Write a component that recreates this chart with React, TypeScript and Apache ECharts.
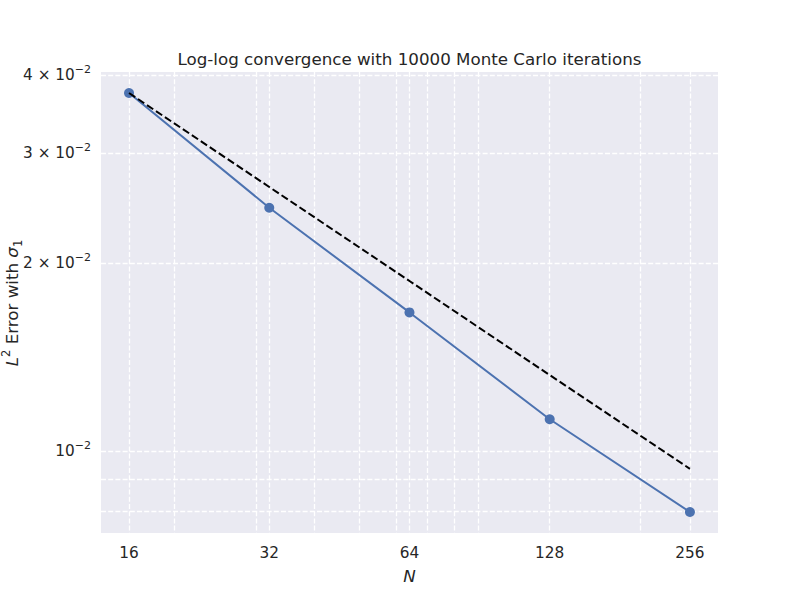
import React, { useEffect, useRef } from "react";
import * as echarts from "echarts";

// Data
const N_VALUES = [16, 32, 64, 128, 256];
const ERRORS = [0.03746, 0.02454, 0.01668, 0.01125, 0.00799];
const REFERENCE = [0.03746, 0.02649, 0.01873, 0.01324, 0.00937];

// Axis limits and ticks
const X_MIN = 13.93;
const X_MAX = 294.1;
const Y_MIN = 0.007395;
const Y_MAX = 0.04048;
const X_LABEL_TICKS = [16, 32, 64, 128, 256];
const X_GRID_TICKS = [16, 20, 30, 32, 40, 50, 60, 64, 70, 80, 90, 128, 200, 256];
const Y_LABEL_TICKS = [0.01, 0.02, 0.03, 0.04];
const Y_GRID_TICKS = [0.008, 0.009, 0.01, 0.02, 0.03, 0.04];

const TITLE = "Log-log convergence with 10000 Monte Carlo iterations";
const Y_NAME = "{i|L}{sup|2} Error with {i|σ}{sub|1}";

const FONT = "DejaVu Sans";
const TEXT_COLOR = "#262626";

const lx = (v: number) => Math.log2(v);
const ly = (v: number) => Math.log10(v);

export default function App() {
  const ref = useRef<HTMLDivElement>(null);

  useEffect(() => {
    if (!ref.current) return;
    const chart = echarts.init(ref.current, undefined, { renderer: "svg" });

    const gridLine = {
      show: true,
      lineStyle: { color: "#ffffff", width: 1.3, type: [5, 2.2] as any },
    };

    const option: any = {
      animation: false,
      backgroundColor: "#ffffff",
      textStyle: { fontFamily: FONT },
      graphic: [
        {
          type: "text",
          x: 409.5,
          y: 59,
          style: {
            text: TITLE,
            align: "center",
            verticalAlign: "middle",
            fontFamily: FONT,
            fontSize: 16.7,
            fill: TEXT_COLOR,
          },
        },
        {
          type: "text",
          x: 12,
          y: 303,
          rotation: Math.PI / 2,
          style: {
            text: Y_NAME,
            align: "center",
            verticalAlign: "middle",
            fontFamily: FONT,
            fontSize: 16.7,
            fill: TEXT_COLOR,
            rich: {
              i: { fontFamily: FONT, fontSize: 16.7, fontStyle: "italic", fill: TEXT_COLOR, lineHeight: 24, verticalAlign: "middle" },
              sup: { fontFamily: FONT, fontSize: 11.5, fill: TEXT_COLOR, lineHeight: 24, verticalAlign: "top" },
              sub: { fontFamily: FONT, fontSize: 11.5, fill: TEXT_COLOR, lineHeight: 24, verticalAlign: "bottom" },
            },
          },
        },
      ],
      grid: {
        left: 101,
        top: 72,
        width: 617,
        height: 461,
        show: true,
        backgroundColor: "#EAEAF2",
        borderWidth: 0,
        containLabel: false,
        outerBoundsMode: "none",
      },
      xAxis: {
        type: "value",
        min: lx(X_MIN),
        max: lx(X_MAX),
        axisLine: { show: false },
        axisTick: { show: false, customValues: X_GRID_TICKS.map(lx) },
        splitLine: gridLine,
        axisLabel: {
          customValues: X_LABEL_TICKS.map(lx),
          formatter: (v: number) => String(Math.round(Math.pow(2, v))),
          color: TEXT_COLOR,
          fontFamily: FONT,
          fontSize: 15.3,
          margin: 12,
        },
        name: "N",
        nameLocation: "middle",
        nameGap: 34,
        nameTextStyle: {
          fontFamily: FONT,
          fontSize: 16.7,
          fontStyle: "italic",
          color: TEXT_COLOR,
        },
      },
      yAxis: {
        type: "value",
        min: ly(Y_MIN),
        max: ly(Y_MAX),
        axisLine: { show: false },
        axisTick: { show: false, customValues: Y_GRID_TICKS.map(ly) },
        splitLine: gridLine,
        axisLabel: {
          customValues: Y_LABEL_TICKS.map(ly),
          formatter: (v: number) => {
            const m = Math.round(Math.pow(10, v) / 0.01);
            return m === 1 ? "{b|10}{sup|−2}" : `{b|${m} × 10}{sup|−2}`;
          },
          color: TEXT_COLOR,
          fontFamily: FONT,
          margin: 10,
          rich: {
            b: { fontSize: 15.3, fontFamily: FONT, color: TEXT_COLOR, lineHeight: 22, verticalAlign: "middle" },
            sup: { fontSize: 11, fontFamily: FONT, color: TEXT_COLOR, lineHeight: 22, verticalAlign: "top" },
          },
        },
      },
      series: [
        {
          type: "line",
          data: N_VALUES.map((n, i) => [lx(n), ly(ERRORS[i])]),
          symbol: "circle",
          symbolSize: 10,
          showSymbol: true,
          lineStyle: { color: "#4C72B0", width: 2 },
          itemStyle: { color: "#4C72B0" },
          z: 2,
        },
        {
          type: "line",
          data: N_VALUES.map((n, i) => [lx(n), ly(REFERENCE[i])]),
          symbol: "none",
          lineStyle: { color: "#000000", width: 2, type: [7.5, 3.3] },
          z: 3,
        },
      ],
    };

    chart.setOption(option);
    return () => chart.dispose();
  }, []);

  return (
    <div
      ref={ref}
      style={{ position: "absolute", left: 0, top: 0, width: 800, height: 600 }}
    />
  );
}
